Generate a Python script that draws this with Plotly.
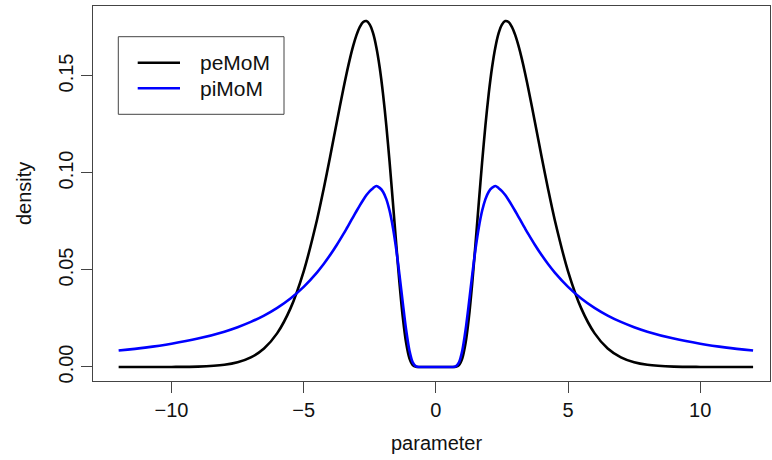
import plotly.graph_objects as go

# parameter values (x) and densities
parameter = [-12, -11, -10, -9, -8, -7.5, -7, -6.5, -6, -5.5, -5, -4.5, -4.25, -4, -3.75, -3.5,
             -3.375, -3.25, -3.125, -3, -2.875, -2.75, -2.625, -2.5, -2.375, -2.25, -2.125, -2,
             -1.875, -1.75, -1.625, -1.5, -1.375, -1.25, -1.125, -1, -0.875, -0.75, -0.625,
             -0.5, -0.25, 0,
             0.25, 0.5, 0.625, 0.75, 0.875, 1, 1.125, 1.25, 1.375, 1.5, 1.625, 1.75, 1.875, 2,
             2.125, 2.25, 2.375, 2.5, 2.625, 2.75, 2.875, 3, 3.125, 3.25, 3.375, 3.5, 3.75, 4,
             4.25, 4.5, 5, 5.5, 6, 6.5, 7, 7.5, 8, 9, 10, 11, 12]

pemom = [0.0, 0.0, 0.00003, 0.00021, 0.00113, 0.00242, 0.00494, 0.00954, 0.01746, 0.03021, 0.04932,
         0.07567, 0.0914, 0.10839, 0.12603, 0.14332, 0.15146, 0.15898, 0.16564, 0.17119, 0.17536,
         0.17783, 0.17832, 0.17648, 0.17208, 0.16475, 0.15441, 0.14094, 0.12454, 0.10557, 0.08484,
         0.0635, 0.04314, 0.02559, 0.01244, 0.00447, 0.00099, 0.000096, 0.000002, 0.0, 0.0, 0.0,
         0.0, 0.0, 0.000002, 0.000096, 0.00099, 0.00447, 0.01244, 0.02559, 0.04314, 0.0635,
         0.08484, 0.10557, 0.12454, 0.14094, 0.15441, 0.16475, 0.17208, 0.17648, 0.17832, 0.17783,
         0.17536, 0.17119, 0.16564, 0.15898, 0.15146, 0.14332, 0.12603, 0.10839, 0.0914, 0.07567,
         0.04932, 0.03021, 0.01746, 0.00954, 0.00494, 0.00242, 0.00113, 0.00021, 0.00003, 0.0, 0.0]

pimom = [0.00846, 0.01, 0.012, 0.01464, 0.01823, 0.02052, 0.02325, 0.02653, 0.0305, 0.03535, 0.04132,
         0.04867, 0.05296, 0.05769, 0.06287, 0.06847, 0.0714, 0.0744, 0.07742, 0.08042, 0.08335,
         0.08612, 0.08862, 0.0907, 0.09218, 0.09331, 0.09233, 0.09036, 0.08654, 0.0805, 0.07194,
         0.06076, 0.04739, 0.03291, 0.01918, 0.0085, 0.0024, 0.00031, 0.000009, 0.0, 0.0, 0.0,
         0.0, 0.0, 0.000009, 0.00031, 0.0024, 0.0085, 0.01918, 0.03291, 0.04739, 0.06076,
         0.07194, 0.0805, 0.08654, 0.09036, 0.09233, 0.09331, 0.09218, 0.0907, 0.08862, 0.08612,
         0.08335, 0.08042, 0.07742, 0.0744, 0.0714, 0.06847, 0.06287, 0.05769, 0.05296, 0.04867,
         0.04132, 0.03535, 0.0305, 0.02653, 0.02325, 0.02052, 0.01823, 0.01464, 0.012, 0.01, 0.00846]

series_names = ["peMoM", "piMoM"]
series_colors = ["#000000", "#0000FF"]
x_ticks = [-10, -5, 0, 5, 10]
y_ticks = [0.00, 0.05, 0.10, 0.15]
y_tick_labels = ["0.00", "0.05", "0.10", "0.15"]

FONT = "Liberation Sans, Arial, Helvetica, sans-serif"
FS = 20

fig = go.Figure()
for name, ys, col in zip(series_names, [pemom, pimom], series_colors):
    fig.add_trace(go.Scatter(x=parameter, y=ys, mode="lines", name=name,
                             line=dict(color=col, width=2.6, shape="spline", smoothing=0.8),
                             showlegend=False, hoverinfo="skip"))

axis_common = dict(showgrid=False, zeroline=False, showline=True, linecolor="#444444",
                   linewidth=1, mirror=True, ticks="outside", ticklen=11, tickwidth=1,
                   tickcolor="#444444", automargin=False,
                   tickfont=dict(family=FONT, size=FS, color="#111111"))

fig.update_xaxes(range=[-12.97, 12.64], tickvals=x_ticks, **axis_common)
fig.update_yaxes(range=[-0.00722, 0.18608], tickvals=y_ticks, ticktext=y_tick_labels,
                 tickangle=-90, **axis_common)

# manual R-style legend
L, W, B, H = 93, 677, 381, 375
def px(x):
    return (x - L) / W
def py(y):
    return (B - y) / H

shapes = [dict(type="rect", xref="paper", yref="paper", x0=px(118.3), x1=px(284),
               y0=py(114.3), y1=py(36.7), line=dict(color="#444444", width=1),
               fillcolor="white")]
annotations = []
for i, (name, col) in enumerate(zip(series_names, series_colors)):
    yy = py(62.7 + 25.6 * i)
    shapes.append(dict(type="line", xref="paper", yref="paper", x0=px(137.7), x1=px(180),
                       y0=yy, y1=yy, line=dict(color=col, width=2.6)))
    annotations.append(dict(text=name, xref="paper", yref="paper", x=px(198), y=yy,
                            xanchor="left", yanchor="middle", showarrow=False,
                            font=dict(family=FONT, size=FS + 1, color="#111111")))

annotations.append(dict(text="parameter", xref="paper", yref="paper", x=px(436), y=py(443),
                        xanchor="center", yanchor="middle", showarrow=False,
                        font=dict(family=FONT, size=FS, color="#111111")))
annotations.append(dict(text="density", xref="paper", yref="paper", x=px(24), y=py(194),
                        xanchor="center", yanchor="middle", showarrow=False, textangle=-90,
                        font=dict(family=FONT, size=FS, color="#111111")))

fig.update_layout(width=772, height=460, margin=dict(l=93, r=2, t=6, b=79),
                  plot_bgcolor="white", paper_bgcolor="white",
                  shapes=shapes, annotations=annotations,
                  font=dict(family=FONT))

fig.write_html("out.html", config={"displayModeBar": False},
               post_script="document.body.style.margin='0';document.body.style.overflow='hidden';")
